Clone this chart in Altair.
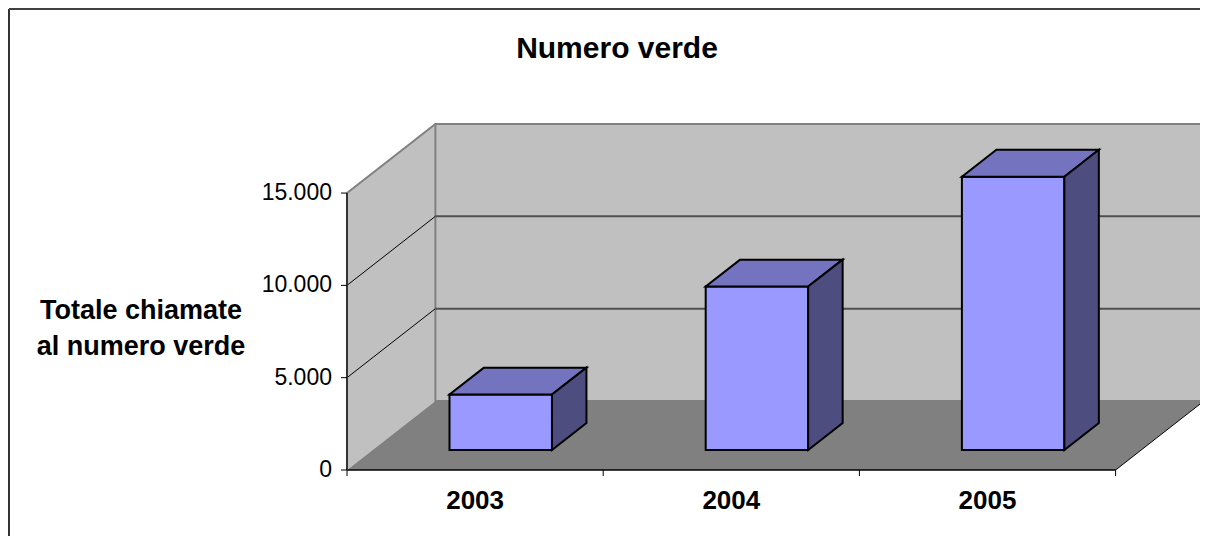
import altair as alt
import pandas as pd

# ---------------- data ----------------
YEARS = ["2003", "2004", "2005"]
CALLS = [3000, 8850, 14800]
Y_TICKS = [0, 5000, 10000, 15000]
Y_LABELS = ["0", "5.000", "10.000", "15.000"]
GRID_VALUES = [5000, 10000]
TITLE = "Numero verde"
Y_TITLE = "Totale chiamate\nal numero verde"

# ---------------- geometry (3D look) ----------------
CAT_PX = 256.2          # pixels per category on the front plane
W, H = 853, 346
YMAX = 15000
N = len(YEARS)
DX = 0.345      # depth offset, category units
DY = 3740       # depth offset, value units
F, B = 0.29, 0.68   # bar front / back depth fraction
X0, X1 = 0.3, 0.7   # bar extent inside its category

FONT = "Liberation Sans"
WALL = "#C0C0C0"
FLOOR = "#808080"
EDGE = "#808080"
C_FRONT = "#9999FF"
C_TOP = "#7373BF"
C_SIDE = "#4D4D80"

xs = alt.Scale(domain=[0, W / CAT_PX], nice=False, zero=False)
ys = alt.Scale(domain=[0, YMAX + DY], nice=False, zero=False)


def X(f="x"):
    return alt.X(f"{f}:Q", scale=xs, axis=None)


def Y(f="y"):
    return alt.Y(f"{f}:Q", scale=ys, axis=None)


# walls and floor
side_wall = pd.DataFrame({"x": [0, DX], "y": [0, DY], "y2": [YMAX, YMAX + DY]})
back_wall = pd.DataFrame({"x": [DX], "x2": [N + DX], "y": [DY], "y2": [YMAX + DY]})
floor = pd.DataFrame({"y": [0, DY], "x": [0, DX], "x2": [N, N + DX]})

side_wall_l = alt.Chart(side_wall).mark_area(orient="vertical", color=WALL).encode(
    x=X(), y=Y(), y2="y2:Q")
back_wall_l = alt.Chart(back_wall).mark_rect(fill=WALL, stroke=EDGE, strokeWidth=2).encode(
    x=X(), x2="x2:Q", y=Y(), y2="y2:Q")
floor_l = alt.Chart(floor).mark_area(orient="horizontal", color=FLOOR).encode(
    y=Y(), x=X(), x2="x2:Q")

# gridlines
side_grid = pd.DataFrame({"x": [0] * len(GRID_VALUES), "x2": [DX] * len(GRID_VALUES),
                          "y": GRID_VALUES, "y2": [v + DY for v in GRID_VALUES]})
back_grid = pd.DataFrame({"x": [DX] * len(GRID_VALUES), "x2": [N + DX] * len(GRID_VALUES),
                          "y": [v + DY for v in GRID_VALUES]})
side_top = pd.DataFrame({"x": [0], "x2": [DX], "y": [YMAX], "y2": [YMAX + DY]})

side_grid_l = alt.Chart(side_grid).mark_rule(color="black", strokeWidth=1).encode(
    x=X(), x2="x2:Q", y=Y(), y2="y2:Q")
back_grid_l = alt.Chart(back_grid).mark_rule(color="#505050", strokeWidth=2).encode(
    x=X(), x2="x2:Q", y=Y())
side_top_l = alt.Chart(side_top).mark_rule(color=EDGE, strokeWidth=2).encode(
    x=X(), x2="x2:Q", y=Y(), y2="y2:Q")

# floor edges
floor_front = pd.DataFrame({"x": [0], "x2": [N], "y": [0]})
floor_right = pd.DataFrame({"x": [N], "x2": [N + DX], "y": [0], "y2": [DY]})
floor_front_l = alt.Chart(floor_front).mark_rule(color="black", strokeWidth=1.5).encode(
    x=X(), x2="x2:Q", y=Y())
floor_right_l = alt.Chart(floor_right).mark_rule(color="black", strokeWidth=1).encode(
    x=X(), x2="x2:Q", y=Y(), y2="y2:Q")

# y axis line, ticks and labels
axis_df = pd.DataFrame({"x": [0], "y": [0], "y2": [YMAX]})
axis_l = alt.Chart(axis_df).mark_rule(color="#333333", strokeWidth=2).encode(
    x=X(), y=Y(), y2="y2:Q")

yt_df = pd.DataFrame({"y": Y_TICKS, "label": Y_LABELS})
ytick_l = alt.Chart(yt_df).mark_rule(color="black", strokeWidth=1).encode(
    x=alt.value(-6), x2=alt.value(0), y=Y())
ylab_l = alt.Chart(yt_df).mark_text(
    font=FONT, fontSize=23, color="black", align="right", baseline="middle").encode(
    x=alt.value(-15), y=Y(), text="label:N")

xt_df = pd.DataFrame({"x": list(range(N + 1))})
xtick_l = alt.Chart(xt_df).mark_rule(color="black", strokeWidth=1).encode(
    x=X(), y=alt.value(H), y2=alt.value(H + 6))

# bars
front_rows, top_rows, side_rows = [], [], []
for i, (yr, v) in enumerate(zip(YEARS, CALLS)):
    front_rows.append({"bar": yr, "x": i + X0 + F * DX, "x2": i + X1 + F * DX,
                       "y": F * DY, "y2": v + F * DY})
    for d in (F, B):
        top_rows.append({"bar": yr, "y": v + d * DY,
                         "x": i + X0 + d * DX, "x2": i + X1 + d * DX})
        side_rows.append({"bar": yr, "x": i + X1 + d * DX,
                          "y": d * DY, "y2": v + d * DY})

front_l = alt.Chart(pd.DataFrame(front_rows)).mark_rect(
    fill=C_FRONT, stroke="black", strokeWidth=2).encode(
    x=X(), x2="x2:Q", y=Y(), y2="y2:Q")
top_l = alt.Chart(pd.DataFrame(top_rows)).mark_area(
    orient="horizontal", fill=C_TOP, stroke="black", strokeWidth=2, strokeJoin="miter").encode(
    y=Y(), x=X(), x2="x2:Q", detail="bar:N")
side_l = alt.Chart(pd.DataFrame(side_rows)).mark_area(
    orient="vertical", fill=C_SIDE, stroke="black", strokeWidth=2, strokeJoin="miter").encode(
    x=X(), y=Y(), y2="y2:Q", detail="bar:N")

# texts
labels_df = pd.DataFrame({"year": YEARS, "x": [i + 0.5 for i in range(N)]})
labels_l = alt.Chart(labels_df).mark_text(
    font=FONT, fontSize=26, fontWeight="bold", color="black", align="center",
    baseline="alphabetic").encode(x=X(), y=alt.value(H + 39), text="year:N")

title_l = alt.Chart(pd.DataFrame({"t": [TITLE]})).mark_text(
    font=FONT, fontSize=30, fontWeight="bold", color="black", align="center",
    baseline="alphabetic").encode(x=alt.value(270), y=alt.value(-66), text="t:N")

ytitle_l = alt.Chart(pd.DataFrame({"t": [Y_TITLE]})).mark_text(
    font=FONT, fontSize=27, fontWeight="bold", color="black", align="center",
    baseline="alphabetic", lineBreak="\n", lineHeight=36).encode(
    x=alt.value(-206), y=alt.value(195), text="t:N")

# chart-area border (top and left edges visible)
border = pd.DataFrame({"k": [0]})
border_top = alt.Chart(border).mark_rule(color="black", strokeWidth=1.5).encode(
    x=alt.value(-338), x2=alt.value(W + 20), y=alt.value(-115))
border_left = alt.Chart(border).mark_rule(color="#333333", strokeWidth=2).encode(
    x=alt.value(-338), y=alt.value(-115), y2=alt.value(H + 100))

chart = alt.layer(
    side_wall_l, back_wall_l, floor_l,
    side_grid_l, back_grid_l, side_top_l,
    floor_front_l, floor_right_l, axis_l, ytick_l, ylab_l, xtick_l,
    front_l, top_l, side_l,
    labels_l, title_l, ytitle_l,
    border_top, border_left,
).properties(
    width=W, height=H,
    autosize=alt.AutoSizeParams(type="none"),
    padding={"left": 339, "top": 116, "right": 0, "bottom": 66},
    background="white",
).configure_view(stroke=None)

chart.save("out.html", embed_options={"renderer": "svg", "actions": False})
